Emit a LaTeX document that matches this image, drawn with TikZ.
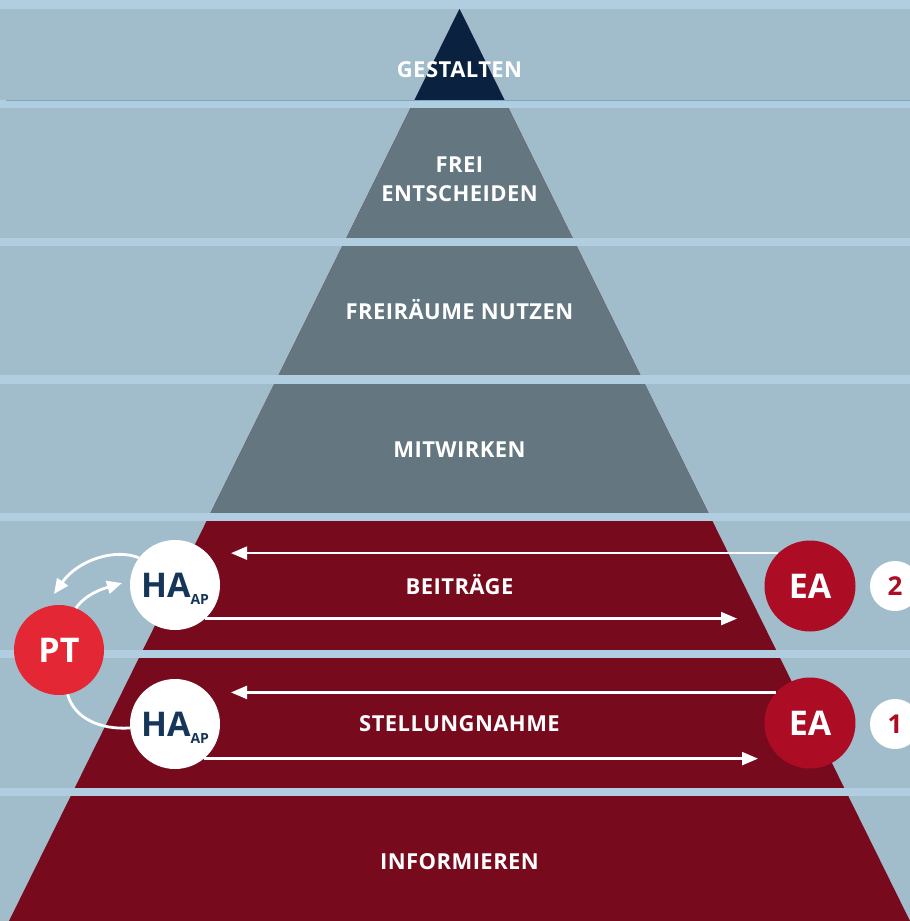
\documentclass[tikz,border=0pt]{standalone}
\usepackage{fontspec}
\setmainfont{Open Sans}
\usetikzlibrary{arrows.meta}
\definecolor{bandbg}{HTML}{A1BDCB}
\definecolor{stripc}{HTML}{B0CEDF}
\definecolor{thinl}{HTML}{78A8C8}
\definecolor{pnavy}{HTML}{0A2240}
\definecolor{pgrey}{HTML}{647680}
\definecolor{pred}{HTML}{780A1E}
\definecolor{eared}{HTML}{AD0D24}
\definecolor{ptred}{HTML}{E42734}
\definecolor{hanavy}{HTML}{163659}
\tikzset{
  lvl/.style={text=white, font=\fontsize{22}{29}\selectfont\bfseries\addfontfeature{LetterSpace=2}, inner sep=0pt, text height=15.7pt, text depth=0pt, align=center},
  circ/.style={circle, inner sep=0pt, minimum size=90pt},
  hacirc/.style={circ, fill=white, text=hanavy, font=\fontsize{34}{34}\selectfont\bfseries},
  ptcirc/.style={circ, fill=ptred, text=white, font=\fontsize{34}{34}\selectfont\bfseries},
  eacirc/.style={circ, fill=eared, text=white, font=\fontsize{34}{34}\selectfont\bfseries, minimum size=91pt},
  numcirc/.style={circ, minimum size=50pt, fill=white, text=eared, font=\fontsize{26}{26}\selectfont\bfseries},
  arr/.style={white, line width=2.3pt, -{Triangle[length=16pt,width=13pt]}},
  carr/.style={white, line width=2.8pt, -{Triangle[length=15pt,width=13pt]}},
  cline/.style={white, line width=2.8pt}
}
\newcommand{\haap}{HA\smash{\raisebox{-7.5pt}{\fontsize{14}{14}\selectfont AP}}}
\begin{document}
\begin{tikzpicture}[x=1pt,y=-1pt]
\useasboundingbox (0,0) rectangle (910,921);
\clip (0,0) rectangle (910,921);
\fill[bandbg] (0,0) rectangle (910,921);
% pyramid
\fill[pred] (459.5,9) -- (9,921) -- (910,921) -- cycle;
\fill[pgrey] (459.5,9) -- (208.5,517) -- (710.5,517) -- cycle;
\fill[pnavy] (459.5,9) -- (412.6,104) -- (506.4,104) -- cycle;
% separating strips
\foreach \a/\b in {0/9,100/108,238/246,375/384,513/521,650/658,788/796}
  \fill[stripc] (0,\a) rectangle (910,\b);
\draw[thinl, line width=1.5pt] (6,100.5) -- (910,100.5);
% level labels
\node[lvl] (l7) at (459.5,70) {GESTALTEN};
\node[lvl] (l6) at (459.5,193.5) {FREI\\ENTSCHEIDEN};
\node[lvl] (l5) at (459.5,312) {FREIRÄUME NUTZEN};
\node[lvl] (l4) at (459.5,450) {MITWIRKEN};
\node[lvl] (l3) at (459.5,587) {BEITRÄGE};
\node[lvl] (l2) at (459.5,724) {STELLUNGNAHME};
\node[lvl] (l1) at (459.5,862) {INFORMIEREN};
% circles
\node[hacirc] (ha2) at (175,585) {\haap};
\node[hacirc] (ha1) at (175,724) {\haap};
\node[ptcirc] (pt) at (59,650) {PT};
\node[eacirc] (ea2) at (810,586) {EA};
\node[eacirc] (ea1) at (810,723) {EA};
\node[numcirc] (n2) at (895,586) {2};
\node[numcirc] (n1) at (895,724) {1};
% straight arrows
\coordinate (t2l) at (231,553);
\coordinate (t2r) at (737,619);
\coordinate (t1l) at (231,693);
\coordinate (t1r) at (758,758);
\draw[arr] (ea2.134) -- (ea2.134 -| t2l);
\draw[arr] (ha2.-48) -- (ha2.-48 -| t2r);
\draw[arr] (ea1.138) -- (ea1.138 -| t1l);
\draw[arr] (ha1.-50) -- (ha1.-50 -| t1r);
% curved arrows
\coordinate (c1) at (54,594);
\coordinate (c2) at (122,583);
\draw[carr] (ha2.143) .. controls (115,548) and (78,560) .. (c1);
\draw[carr] (pt.68) .. controls (86,594) and (102,589) .. (c2);
\draw[cline] (pt.-79) .. controls (74,718) and (100,730) .. (ha1.185);
\end{tikzpicture}
\end{document}
